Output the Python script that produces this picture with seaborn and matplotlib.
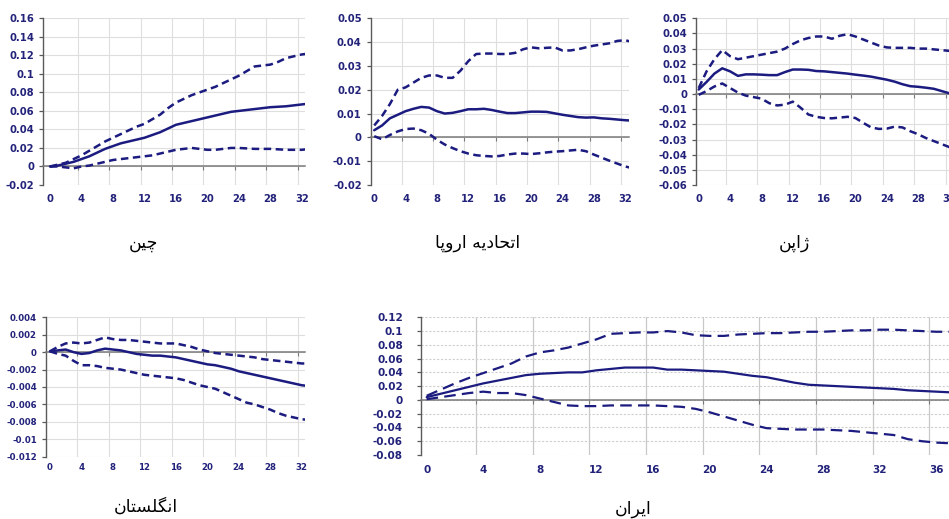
import numpy as np
import pandas as pd
import matplotlib
matplotlib.use("Agg")
import matplotlib.pyplot as plt
import seaborn as sns
from matplotlib.ticker import FixedLocator

# ---------------- data ----------------
steps = list(range(34))          # 0..33
steps_iran = list(range(38))     # 0..37

china_mid = [0, 0.001, 0.003, 0.005, 0.008, 0.011, 0.015, 0.019, 0.022, 0.025, 0.027, 0.029, 0.031, 0.034,
             0.037, 0.041, 0.045, 0.047, 0.049, 0.051, 0.053, 0.055, 0.057, 0.059, 0.060, 0.061, 0.062, 0.063,
             0.064, 0.0645, 0.065, 0.066, 0.067, 0.068]
china_up = [0, 0.002, 0.004, 0.008, 0.012, 0.017, 0.022, 0.027, 0.031, 0.035, 0.039, 0.043, 0.046, 0.051,
            0.056, 0.063, 0.069, 0.073, 0.077, 0.080, 0.083, 0.086, 0.090, 0.094, 0.098, 0.103, 0.108, 0.109,
            0.110, 0.113, 0.117, 0.119, 0.121, 0.122]
china_lo = [0, 0, -0.001, -0.002, 0.0, 0.001, 0.003, 0.005, 0.007, 0.008, 0.009, 0.010, 0.011, 0.012,
            0.014, 0.016, 0.018, 0.019, 0.020, 0.019, 0.018, 0.018, 0.019, 0.020, 0.020, 0.0195, 0.019, 0.019,
            0.019, 0.0185, 0.018, 0.018, 0.018, 0.019]

eu_mid = [0.003, 0.005, 0.008, 0.0095, 0.011, 0.012, 0.0128, 0.0125, 0.011, 0.010, 0.0103, 0.011, 0.0118,
          0.0118, 0.012, 0.0115, 0.0108, 0.0102, 0.0102, 0.0105, 0.0108, 0.0108, 0.0107, 0.0101, 0.0095,
          0.009, 0.0085, 0.0083, 0.0084, 0.008, 0.0078, 0.0075, 0.0072, 0.007]
eu_up = [0.005, 0.009, 0.014, 0.020, 0.021, 0.023, 0.025, 0.026, 0.026, 0.025, 0.025, 0.028, 0.032, 0.035,
         0.0352, 0.0352, 0.035, 0.035, 0.0355, 0.037, 0.0378, 0.0374, 0.0376, 0.0378, 0.0365, 0.0365, 0.037,
         0.0378, 0.0385, 0.039, 0.0395, 0.0405, 0.0408, 0.040]
eu_lo = [0.0005, -0.0008, 0.001, 0.0025, 0.0035, 0.0037, 0.003, 0.0015, -0.001, -0.003, -0.0045, -0.0058,
         -0.0068, -0.0075, -0.0078, -0.008, -0.0078, -0.0072, -0.0068, -0.0068, -0.007, -0.0067, -0.0063,
         -0.006, -0.0058, -0.0055, -0.0052, -0.0058, -0.0072, -0.0085, -0.0098, -0.011, -0.0122, -0.013]

japan_mid = [0.003, 0.008, 0.0135, 0.017, 0.015, 0.012, 0.013, 0.013, 0.0128, 0.0125, 0.0125, 0.0145, 0.0162,
             0.0162, 0.016, 0.0152, 0.015, 0.0145, 0.014, 0.0135, 0.0128, 0.0122, 0.0115, 0.0105, 0.0095,
             0.0082, 0.0065, 0.0052, 0.0048, 0.0042, 0.0035, 0.002, 0.0005, -0.001]
japan_up = [0.004, 0.015, 0.023, 0.029, 0.025, 0.023, 0.024, 0.025, 0.026, 0.027, 0.028, 0.030, 0.033, 0.0355,
            0.037, 0.038, 0.038, 0.0365, 0.0385, 0.0395, 0.038, 0.036, 0.034, 0.032, 0.0308, 0.0305, 0.0305,
            0.0305, 0.030, 0.030, 0.0295, 0.029, 0.0285, 0.028]
japan_lo = [-0.0005, 0.002, 0.005, 0.007, 0.004, 0.001, -0.001, -0.002, -0.003, -0.006, -0.0075, -0.007,
            -0.005, -0.009, -0.0135, -0.015, -0.0158, -0.016, -0.0155, -0.015, -0.0158, -0.019, -0.022,
            -0.023, -0.0228, -0.0215, -0.022, -0.0245, -0.0265, -0.029, -0.031, -0.033, -0.035, -0.036]

uk_mid = [0.0001, 0.0002, 0.0003, 0.0, -0.0002, -0.0001, 0.0002, 0.0004, 0.0003, 0.0002, 0.0, -0.0002,
          -0.0003, -0.0004, -0.0004, -0.0005, -0.0006, -0.0008, -0.001, -0.0012, -0.0014, -0.0015, -0.0017,
          -0.0019, -0.0022, -0.0024, -0.0026, -0.0028, -0.003, -0.0032, -0.0034, -0.0036, -0.0038, -0.0039]
uk_up = [0.0001, 0.0006, 0.001, 0.0011, 0.001, 0.0011, 0.0014, 0.0017, 0.0015, 0.0014, 0.0014, 0.0013,
         0.0012, 0.0011, 0.001, 0.001, 0.001, 0.0008, 0.0006, 0.0003, 0.0001, -0.0001, -0.0002, -0.0003,
         -0.0004, -0.0005, -0.0006, -0.0008, -0.0009, -0.001, -0.0011, -0.0012, -0.0013, -0.0013]
uk_lo = [0.0001, -0.0002, -0.0004, -0.001, -0.0015, -0.0015, -0.0016, -0.0018, -0.0019, -0.002, -0.0022,
         -0.0024, -0.0026, -0.0027, -0.0028, -0.0029, -0.003, -0.0032, -0.0035, -0.0038, -0.004, -0.0042,
         -0.0046, -0.005, -0.0054, -0.0058, -0.006, -0.0063, -0.0066, -0.007, -0.0073, -0.0075, -0.0077,
         -0.0078]

iran_mid = [0.004, 0.009, 0.014, 0.019, 0.024, 0.028, 0.032, 0.036, 0.038, 0.039, 0.040, 0.040, 0.043,
            0.045, 0.047, 0.047, 0.047, 0.044, 0.044, 0.043, 0.042, 0.041, 0.038, 0.035, 0.033, 0.029,
            0.025, 0.022, 0.021, 0.020, 0.019, 0.018, 0.017, 0.016, 0.014, 0.013, 0.012, 0.011]
iran_up = [0.006, 0.015, 0.024, 0.032, 0.039, 0.046, 0.053, 0.063, 0.069, 0.072, 0.076, 0.082, 0.088, 0.096,
           0.097, 0.098, 0.098, 0.100, 0.098, 0.094, 0.093, 0.093, 0.095, 0.096, 0.097, 0.097, 0.098, 0.099,
           0.099, 0.100, 0.101, 0.101, 0.102, 0.102, 0.101, 0.100, 0.099, 0.099]
iran_lo = [0.001, 0.004, 0.007, 0.010, 0.012, 0.010, 0.010, 0.007, 0.002, -0.003, -0.008, -0.009, -0.009,
           -0.008, -0.008, -0.008, -0.008, -0.009, -0.010, -0.013, -0.018, -0.024, -0.030, -0.036, -0.041,
           -0.042, -0.043, -0.043, -0.043, -0.044, -0.045, -0.047, -0.049, -0.051, -0.057, -0.060, -0.062,
           -0.063]

titles = ["چین", "اتحادیه اروپا", "ژاپن", "انگلستان", "ایران"]

xticks_33 = [0, 4, 8, 12, 16, 20, 24, 28, 32]
xticks_iran = [0, 4, 8, 12, 16, 20, 24, 28, 32, 36]
yticks_china = [-0.02, 0, 0.02, 0.04, 0.06, 0.08, 0.1, 0.12, 0.14, 0.16]
yticks_eu = [-0.02, -0.01, 0, 0.01, 0.02, 0.03, 0.04, 0.05]
yticks_japan = [-0.06, -0.05, -0.04, -0.03, -0.02, -0.01, 0, 0.01, 0.02, 0.03, 0.04, 0.05]
yticks_uk = [-0.012, -0.01, -0.008, -0.006, -0.004, -0.002, 0, 0.002, 0.004]
yticks_iran = [-0.08, -0.06, -0.04, -0.02, 0, 0.02, 0.04, 0.06, 0.08, 0.1, 0.12]

# ---------------- Persian shaping (matplotlib has no Arabic shaping) ----------------
FORMS = {
    'ا': (0xFE8D, 0xFE8E, None, None),
    'ت': (0xFE95, 0xFE96, 0xFE97, 0xFE98),
    'ح': (0xFEA1, 0xFEA2, 0xFEA3, 0xFEA4),
    'د': (0xFEA9, 0xFEAA, None, None),
    'ی': (0xFBFC, 0xFBFD, 0xFBFE, 0xFBFF),
    'ه': (0xFEE9, 0xFEEA, 0xFEEB, 0xFEEC),
    'ر': (0xFEAD, 0xFEAE, None, None),
    'و': (0xFEED, 0xFEEE, None, None),
    'پ': (0xFB56, 0xFB57, 0xFB58, 0xFB59),
    'چ': (0xFB7A, 0xFB7B, 0xFB7C, 0xFB7D),
    'ن': (0xFEE5, 0xFEE6, 0xFEE7, 0xFEE8),
    'ژ': (0xFB8A, 0xFB8B, None, None),
    'گ': (0xFB92, 0xFB93, 0xFB94, 0xFB95),
    'ل': (0xFEDD, 0xFEDE, 0xFEDF, 0xFEE0),
    'س': (0xFEB1, 0xFEB2, 0xFEB3, 0xFEB4),
}


def shape_fa(text):
    chars = list(text)

    def dual(c):
        return c in FORMS and FORMS[c][2] is not None

    out = []
    for i, c in enumerate(chars):
        if c not in FORMS:
            out.append(c)
            continue
        prev_c = chars[i - 1] if i > 0 else None
        next_c = chars[i + 1] if i + 1 < len(chars) else None
        pj = prev_c is not None and dual(prev_c)
        nj = dual(c) and next_c is not None and next_c in FORMS
        iso, fin, ini, med = FORMS[c]
        if pj and nj:
            g = med
        elif pj:
            g = fin
        elif nj:
            g = ini
        else:
            g = iso
        out.append(chr(g))
    return "".join(reversed(out))


def fmt(v):
    s = f"{round(v, 6):g}"
    return "0" if s in ("-0", "0") else s


# ---------------- drawing ----------------
sns.set_style("white")
plt.rcParams["font.family"] = ["DejaVu Sans"]

W, H = 949, 519
fig = plt.figure(figsize=(W / 100, H / 100), dpi=100)

NAVY = "#1b1b80"
LABEL = "#22227a"

panels = [
    dict(mid=china_mid, up=china_up, lo=china_lo, x=steps, yt=yticks_china, xt=xticks_33,
         box=(43.3, 305, 18.3, 185), xlim=(-0.85, 32.4), title=(143, 243), small=True),
    dict(mid=eu_mid, up=eu_up, lo=eu_lo, x=steps, yt=yticks_eu, xt=xticks_33,
         box=(370.7, 629, 18.3, 185), xlim=(-0.45, 32.5), title=(478, 243), small=True),
    dict(mid=japan_mid, up=japan_up, lo=japan_lo, x=steps, yt=yticks_japan, xt=xticks_33,
         box=(696, 949.5, 18.3, 185), xlim=(-0.35, 32.01), title=(794, 243), small=True),
    dict(mid=uk_mid, up=uk_up, lo=uk_lo, x=steps, yt=yticks_uk, xt=xticks_33,
         box=(46, 305, 317.3, 456.7), xlim=(-0.5, 32.4), title=(146, 507), small=False),
    dict(mid=iran_mid, up=iran_up, lo=iran_lo, x=steps_iran, yt=yticks_iran, xt=xticks_iran,
         box=(421, 949, 317.3, 455), xlim=(-0.4, 36.9), title=(633, 509), small=False, iran=True),
]

for k, p in enumerate(panels):
    l, r, t, b = p["box"]
    ax = fig.add_axes([l / W, 1 - b / H, (r - l) / W, (b - t) / H])
    iran = p.get("iran", False)
    lw = 1.6 if iran else 1.8
    dash = (0, (5.2, 2.8)) if iran else (0, (3.0, 1.8))
    df = pd.DataFrame({"step": p["x"], "mid": p["mid"], "up": p["up"], "lo": p["lo"]})
    sns.lineplot(data=df, x="step", y="mid", ax=ax, color=NAVY, lw=lw, zorder=4)
    sns.lineplot(data=df, x="step", y="up", ax=ax, color=NAVY, lw=lw, linestyle=dash, zorder=4)
    sns.lineplot(data=df, x="step", y="lo", ax=ax, color=NAVY, lw=lw, linestyle=dash, zorder=4)

    ax.set_xlim(*p["xlim"])
    ax.set_ylim(p["yt"][0], p["yt"][-1])
    ax.set_xlabel("")
    ax.set_ylabel("")

    # y axis
    ax.yaxis.set_major_locator(FixedLocator(p["yt"]))
    ax.set_yticklabels([fmt(v) for v in p["yt"]])
    # x axis: labels at observations, grid between observations
    ax.xaxis.set_major_locator(FixedLocator(p["xt"]))
    ax.set_xticklabels([str(v) for v in p["xt"]])
    grid_x = [v + 3.5 for v in p["xt"] if v + 3.5 < p["xlim"][1]]
    ax.xaxis.set_minor_locator(FixedLocator(grid_x))

    ax.set_axisbelow(True)
    if iran:
        ax.grid(axis="y", which="major", color="#cfcfcf", lw=0.8, linestyle=(0, (2, 1.5)))
        ax.grid(axis="x", which="minor", color="#c8c8c8", lw=0.9)
    else:
        ax.grid(axis="y", which="major", color="#dedede", lw=0.8)
        ax.grid(axis="x", which="minor", color="#dedede", lw=0.8)
    ax.grid(axis="x", which="major", visible=False)

    for s in ("bottom", "right"):
        ax.spines[s].set_visible(False)
    ax.spines["left"].set_color("#5a5a5a")
    ax.spines["left"].set_linewidth(1.0)
    # zero line drawn with the top spine placed at y = 0
    ax.spines["top"].set_position(("data", 0))
    ax.spines["top"].set_color("#7a7a7a")
    ax.spines["top"].set_linewidth(1.1)
    ax.spines["top"].set_zorder(3)

    if p["small"]:
        tfont = dict(family=["Liberation Sans Narrow", "DejaVu Sans"], size=7.2, weight="bold")
        ypad, xpad = 3.5, 6.5
    elif iran:
        tfont = dict(family=["DejaVu Sans"], size=7.5, weight="bold")
        ypad, xpad = 10, 7
    else:
        tfont = dict(family=["DejaVu Sans"], size=6.2, weight="bold")
        ypad, xpad = 3.5, 4.5

    ax.tick_params(axis="y", which="major", left=True, length=3, width=0.9, color="#5a5a5a",
                   direction="out", pad=ypad, labelcolor=LABEL)
    ax.tick_params(axis="x", which="major", bottom=True, top=False, length=0, pad=xpad,
                   labelcolor=LABEL, labelbottom=True, labeltop=False)
    ax.tick_params(axis="x", which="minor", bottom=False, top=True, length=3, width=0.8,
                   color="#7a7a7a", direction="in")
    for lab in ax.get_xticklabels() + ax.get_yticklabels():
        lab.set_fontfamily(tfont["family"])
        lab.set_fontsize(tfont["size"])
        lab.set_fontweight(tfont["weight"])

    tx, ty = p["title"]
    fig.text(tx / W, 1 - ty / H, shape_fa(titles[k]), ha="center", va="center",
             fontsize=12.5, color="black", family=["DejaVu Sans"])

fig.savefig("out.png", dpi=100)
